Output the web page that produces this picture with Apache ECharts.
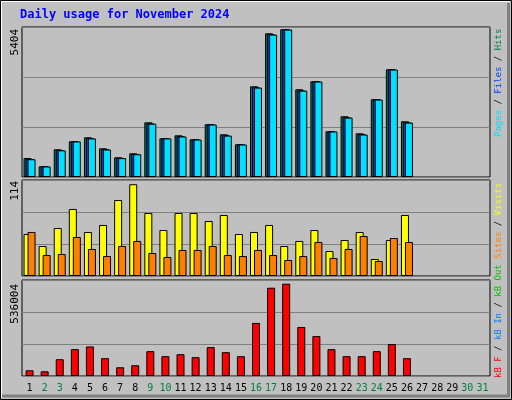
<!DOCTYPE html>
<html><head><meta charset="utf-8">
<script src="https://cdn.jsdelivr.net/npm/echarts@6/dist/echarts.min.js"></script>
<style>html,body{margin:0;padding:0;background:#fff}#c{width:512px;height:400px}</style>
</head><body><div id="c"></div>
<script>
const days = Array.from({length:31},(_, i)=>String(i+1));
const weekendDays = ['2','3','9','10','16','17','23','24','30','31'];
const hits  = [685,385,998,1286,1430,1034,710,854,1970,1394,1502,1358,1899,1538,1178,3268,5177,5322,3160,3448,1646,2187,1574,2800,3880,2007];
const files = [650,385,970,1286,1400,1000,690,830,1930,1394,1470,1358,1899,1500,1178,3230,5140,5322,3120,3448,1646,2150,1540,2800,3880,1970];
const pages = [640,380,960,1280,1390,990,680,820,1920,1390,1460,1350,1890,1490,1170,3220,5130,5310,3110,3440,1640,2140,1530,2790,3870,1960];
const visits = [49.9,35.6,57,79.6,52.3,60.6,90.2,109,74.8,54.6,74.8,74.8,65.3,72.4,49.9,52.3,60.6,35.6,41.6,54.6,29.7,42.7,52.3,20.2,42.7,72.4];
const sites  = [52.3,24.9,26.1,46.3,32.1,23.7,35.6,41.6,27.3,22.6,30.9,30.9,35.6,24.9,23.7,30.9,24.9,19,23.7,40.4,21.4,32.1,47.5,17.8,45.1,40.4];
const kbF = [31860,26238,93705,149928,164921,99327,48727,59971,138683,110572,121817,104950,161173,133061,110572,296108,492888,515378,273619,223018,149928,110572,110572,138683,178040,99327];
const yMax = [5404,114,536004];

const chart = echarts.init(document.getElementById('c'));
const mono = 'DejaVu Sans Mono';
const gridTops = [27,180,280], gridH = [150,96,96];
const grids = gridTops.map((t,i)=>({left:22,right:22,top:t,height:gridH[i],show:true,borderColor:'#000',borderWidth:1,backgroundColor:'#c0c0c0'}));
const xAxes = [0,1,2].map(i=>({type:'category',gridIndex:i,data:days,axisLine:{show:false},axisTick:{show:false},
  axisLabel:{show:i===2,fontFamily:mono,fontSize:10,margin:7,interval:0,color:(v)=>weekendDays.includes(v)?'#008040':'#000'}}));
const yAxes = [0,1,2].map(i=>({type:'value',gridIndex:i,min:0,max:yMax[i],interval:yMax[i]/3,axisLabel:{show:false},axisLine:{show:false},axisTick:{show:false},
  splitLine:{lineStyle:{color:'#808080',width:1}}}));
const bs = {borderColor:'#000',borderWidth:1};
function bar(name,data,i,color,gap){return {name,type:'bar',xAxisIndex:i,yAxisIndex:i,data,barWidth:8,barGap:gap,itemStyle:Object.assign({color},bs),animation:false,silent:true};}
function vtext(x,y,rich,text,align,fs){return {type:'text',x,y,rotation:Math.PI/2,style:{text,rich,align,verticalAlign:'middle',fontFamily:mono,fontSize:fs||11}};}
const st = c=>({fill:c,fontFamily:mono,fontSize:9});
chart.setOption({
  backgroundColor:'#c0c0c0',
  animation:false,
  grid:grids, xAxis:xAxes, yAxis:yAxes,
  series:[
    bar('Hits',hits,0,'#008040','-75%'),
    bar('Files',files,0,'#0040ff','-75%'),
    bar('Pages',pages,0,'#00e0ff','-75%'),
    bar('Visits',visits,1,'#ffff00','-50%'),
    bar('Sites',sites,1,'#ff8000','-50%'),
    bar('kB F',kbF,2,'#ff0000','-50%')
  ],
  graphic:[
    {type:'rect',shape:{x:0.5,y:0.5,width:511,height:399},style:{fill:'none',stroke:'#000',lineWidth:1},z:100},
    {type:'polyline',shape:{points:[[1.5,398],[1.5,1.5],[510,1.5]]},style:{stroke:'#fff',lineWidth:1,fill:'none'},z:100},
    {type:'polyline',shape:{points:[[2,396],[508.5,396],[508.5,3]]},style:{stroke:'#808080',lineWidth:3,fill:'none'},z:100},
    {type:'text',x:20,y:15,style:{text:'Daily usage for November 2024',fontFamily:mono,fontWeight:'bold',fontSize:12,fill:'#0000ff',verticalAlign:'middle'}},
    vtext(15,29,{},String(yMax[0]),'right'),
    vtext(15,181,{},String(yMax[1]),'right'),
    vtext(15,284,{},String(yMax[2]),'right'),
    vtext(499,137,{p:st('#00e0ff'),f:st('#0040ff'),h:st('#008040'),k:st('#000')},'{p|Pages} {k|/} {f|Files} {k|/} {h|Hits}','left',9),
    vtext(499,378,{r:st('#ff0000'),b:st('#0080ff'),g:st('#00c000'),o:st('#ff8000'),y:st('#ffff00'),k:st('#000')},'{r|kB F} {k|/} {b|kB In} {k|/} {g|kB Out} {o|Sites} {k|/} {y|Visits}','left',9)
  ]
});
</script></body></html>
